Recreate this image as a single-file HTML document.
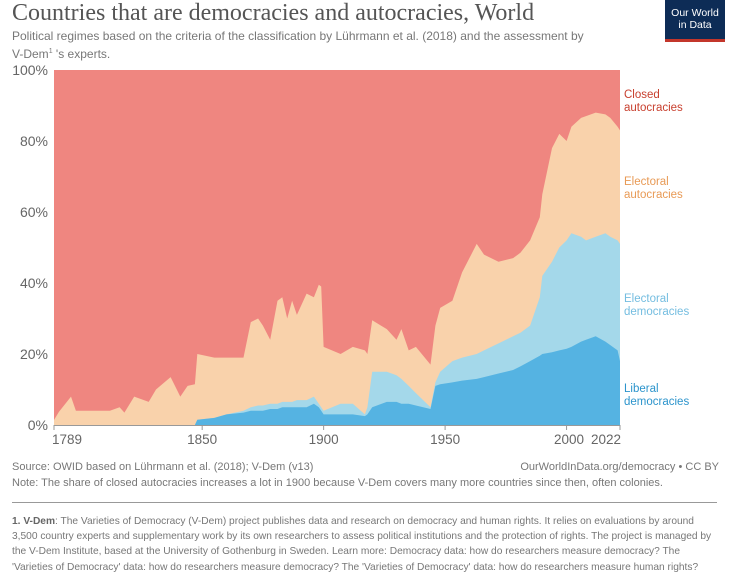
<!DOCTYPE html>
<html><head><meta charset="utf-8">
<style>
html,body{margin:0;padding:0;background:#fff;width:729px;height:581px;overflow:hidden;font-family:"Liberation Sans",sans-serif;}
.t{position:absolute;white-space:nowrap;}
</style></head>
<body>
<div style="position:relative;width:729px;height:581px;">
<div class="t" style="left:12px;top:0px;font-family:'Liberation Serif',serif;font-size:24px;color:#555;">Countries that are democracies and autocracies, World</div>
<div class="t" style="left:12px;top:29px;font-size:12px;line-height:15px;color:#777;">Political regimes based on the criteria of the classification by Lührmann et al. (2018) and the assessment by<br>V-Dem<sup style="font-size:7px">1</sup> 's experts.</div>
<div style="position:absolute;left:665px;top:0;width:60px;height:42px;background:#0d2c56;border-bottom:3px solid #c3362b;color:#fff;font-size:10.5px;line-height:12px;text-align:center;padding-top:7px;box-sizing:border-box;">Our World<br>in Data</div>
<svg id="chart" width="729" height="460" style="position:absolute;left:0;top:0"></svg>
<div class="t" style="left:12px;top:461px;font-size:11px;color:#777;">Source: OWID based on Lührmann et al. (2018); V-Dem (v13)</div>
<div class="t" style="right:10px;top:461px;font-size:11px;color:#777;">OurWorldInData.org/democracy • CC BY</div>
<div class="t" style="left:12px;top:477px;font-size:11px;color:#777;">Note: The share of closed autocracies increases a lot in 1900 because V-Dem covers many more countries since then, often colonies.</div>
<div style="position:absolute;left:12px;top:502px;width:705px;height:1px;background:#999;"></div>
<div class="t" style="left:12px;top:514px;width:705px;white-space:normal;font-size:10.2px;line-height:15.2px;color:#777;"><b style="color:#666">1. V-Dem</b>: The Varieties of Democracy (V-Dem) project publishes data and research on democracy and human rights. It relies on evaluations by around 3,500 country experts and supplementary work by its own researchers to assess political institutions and the protection of rights. The project is managed by the V-Dem Institute, based at the University of Gothenburg in Sweden. Learn more: Democracy data: how do researchers measure democracy? The 'Varieties of Democracy' data: how do researchers measure democracy? The 'Varieties of Democracy' data: how do researchers measure human rights?</div>
</div>
<script>
const years=[1789,1791,1796,1798,1812,1816,1818,1822,1828,1831,1837,1841,1844,1847,1848,1855,1860,1867,1870,1873,1875,1878,1881,1883,1885,1887,1889,1893,1896,1898,1899,1900,1907,1912,1917,1918,1920,1926,1930,1932,1935,1938,1944,1946,1948,1953,1957,1963,1966,1972,1978,1981,1985,1989,1990,1994,1997,2000,2002,2006,2008,2012,2016,2018,2021,2022];
const liberal=[0,0,0,0,0,0,0,0,0,0,0,0,0,0,1.5,2,3,3.5,4,4,4,4.5,4.5,5,5,5,5,5,6,5,4,3,3,3,2.5,3,5,6.5,6.5,6,6,5.5,4.5,11,11.5,12,12.5,13,13.5,14.5,15.5,16.5,18,19.5,20,20.5,21,21.5,22,23.5,24,25,23.5,22.5,21,18];
const electoralDem=[0,0,0,0,0,0,0,0,0,0,0,0,0,0,0,0,0,0.5,1,1.5,1.5,1.5,1.5,1.5,1.5,1.5,2,2,2,1,1,1,3,3,0.5,2,10,8.5,7.5,7,5,3.5,0.5,1,3.5,6,6.5,7,7.5,8.5,9.5,9.5,10,16.5,22,25.5,29,30.5,32,29.5,28,28,30.5,30.5,31,33];
const electoralAut=[1.4,3.7,8,4,4,5,3.5,8,6.5,10,13.5,8,11,11.5,18.5,17,16,15,24,24.5,22.5,18,29,29.5,23.5,28.5,24,30,28,33.5,34,18,14,16,18,15,14.5,12,10,14,10,13,12,16,18,17,24,31,27,23,22,22.5,24,22.5,23,32,32,28,30,33.5,35,35,33.5,33.5,32,32];
const yTicks=[0,20,40,60,80,100];
const xTicks=[1789,1850,1900,1950,2000,2022];

const X0=54,X1=620,Y0=425,Y1=70;
const x=y=>X0+(y-1789)/(2022-1789)*(X1-X0);
const yv=v=>Y0-v/100*(Y0-Y1);
const svg=document.getElementById('chart');
const NS='http://www.w3.org/2000/svg';
function mk(t,a){const e=document.createElementNS(NS,t);for(const k in a)e.setAttribute(k,a[k]);svg.appendChild(e);return e;}

const closed=mk('rect',{x:X0,y:Y1,width:X1-X0,height:Y0-Y1,fill:'#ef8680'});



const series=[[liberal,'#55b3e2','area-liberal-democracies'],[electoralDem,'#a4d8ea','area-electoral-democracies'],[electoralAut,'#f9d2ab','area-electoral-autocracies']];
const base=years.map(()=>0);
const layers=[];
series.forEach(s=>{
  const lo=base.slice();
  s[0].forEach((v,i)=>base[i]+=v);
  layers.push([lo,base.slice(),s[1],s[2]]);
});
for(let k=layers.length-1;k>=0;k--){
  const [lo,hi,col,name]=layers[k];
  let d='';
  years.forEach((yr,i)=>{d+=(i?'L':'M')+x(yr).toFixed(1)+','+yv(hi[i]).toFixed(1);});
  d+='L'+x(2022)+','+Y0+'L'+X0+','+Y0+'Z';
  const p=mk('path',{d:d,fill:col});
  
  
}
mk('line',{x1:X0,y1:Y0+0.5,x2:X1,y2:Y0+0.5,stroke:'#999','stroke-width':1});
yTicks.forEach(t=>{
  const tx=mk('text',{x:48,y:yv(t)+5,'text-anchor':'end','font-size':14,fill:'#666','font-family':'Liberation Sans, sans-serif'});
  tx.textContent=t+'%';
  
  
});
xTicks.forEach((t,i)=>{
  mk('line',{x1:x(t),y1:Y0,x2:x(t),y2:Y0+5,stroke:'#999'});
  let anchor='middle',px=x(t);
  if(i===0)anchor='start',px=X0-2;
  if(t===2022)anchor='end',px=X1+1;
  if(t===2000)anchor='end',px=X1-36;
  const tx=mk('text',{x:px,y:Y0+19,'text-anchor':anchor,'font-size':13.5,fill:'#666','font-family':'Liberation Sans, sans-serif'});
  tx.textContent=t;
  
  
});
const labels=[['Closed','autocracies',98,'#c8402f','label-closed-autocracies'],['Electoral','autocracies',185,'#e89a55','label-electoral-autocracies'],['Electoral','democracies',302,'#74bde0','label-electoral-democracies'],['Liberal','democracies',392,'#2c94cc','label-liberal-democracies']];
labels.forEach(l=>{
  const tx=mk('text',{x:624,y:l[2],'font-size':11.5,fill:l[3],'font-family':'Liberation Sans, sans-serif'});
  
  
  const a=document.createElementNS(NS,'tspan');a.setAttribute('x',624);a.textContent=l[0];tx.appendChild(a);
  const b=document.createElementNS(NS,'tspan');b.setAttribute('x',624);b.setAttribute('dy',13);b.textContent=l[1];tx.appendChild(b);
});
</script>
</body></html>
